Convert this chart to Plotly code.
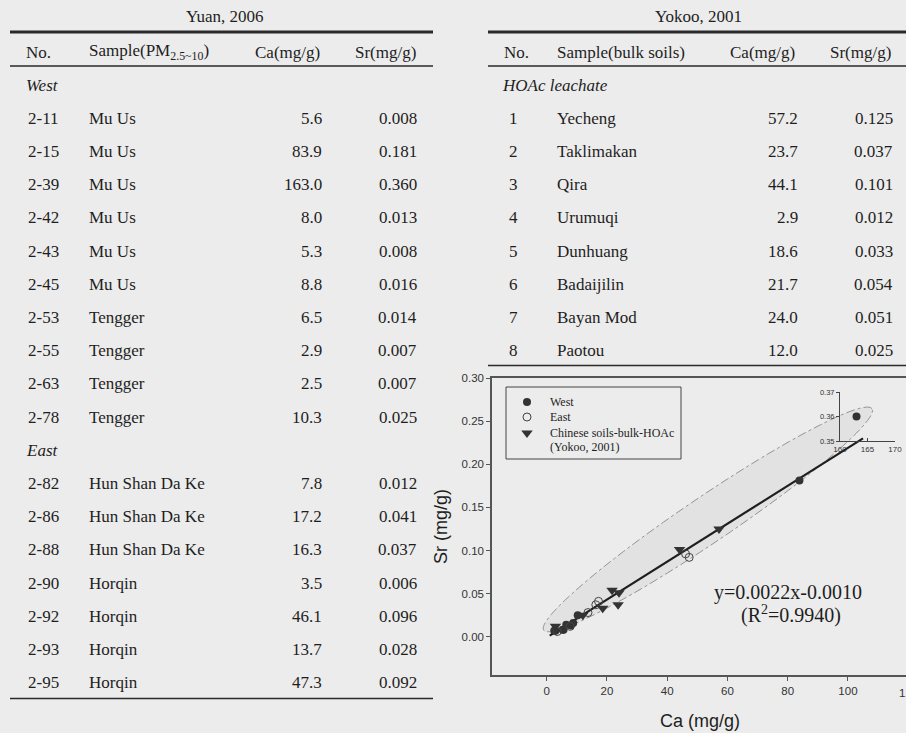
import math
import plotly.graph_objects as go

# ---------------- data ----------------
yuan_no = ["2-11", "2-15", "2-39", "2-42", "2-43", "2-45", "2-53", "2-55", "2-63", "2-78",
           "2-82", "2-86", "2-88", "2-90", "2-92", "2-93", "2-95"]
yuan_sample = ["Mu Us"] * 6 + ["Tengger"] * 4 + ["Hun Shan Da Ke"] * 3 + ["Horqin"] * 4
yuan_ca = [5.6, 83.9, 163.0, 8.0, 5.3, 8.8, 6.5, 2.9, 2.5, 10.3,
           7.8, 17.2, 16.3, 3.5, 46.1, 13.7, 47.3]
yuan_sr = [0.008, 0.181, 0.360, 0.013, 0.008, 0.016, 0.014, 0.007, 0.007, 0.025,
           0.012, 0.041, 0.037, 0.006, 0.096, 0.028, 0.092]
yuan_region = ["West"] * 10 + ["East"] * 7

yokoo_no = ["1", "2", "3", "4", "5", "6", "7", "8"]
yokoo_sample = ["Yecheng", "Taklimakan", "Qira", "Urumuqi", "Dunhuang", "Badaijilin",
                "Bayan Mod", "Paotou"]
yokoo_ca = [57.2, 23.7, 44.1, 2.9, 18.6, 21.7, 24.0, 12.0]
yokoo_sr = [0.125, 0.037, 0.101, 0.012, 0.033, 0.054, 0.051, 0.025]

fit_slope = 0.0022
fit_intercept = -0.0010
fit_r2 = 0.9940
fit_x = [1.0, 105.0]

x_ticks = [0, 20, 40, 60, 80, 100]
y_ticks = [0.00, 0.05, 0.10, 0.15, 0.20, 0.25, 0.30]
inset_x_ticks = [160, 165, 170]
inset_y_ticks = [0.35, 0.36, 0.37]

legend_labels = ["West", "East", "Chinese soils-bulk-HOAc", "(Yokoo, 2001)"]

# ---------------- layout helpers ----------------
W, H = 906, 733
BG = "#ececec"
INK = "#1e1e1e"
SERIF = "Liberation Serif, Times New Roman, serif"
SANS = "Liberation Sans, Arial, sans-serif"


def px(x):
    return x / W


def py(y):
    return 1 - y / H


annotations = []
shapes = []


def text(x, y, s, size=17, anchor="left", italic=False, family=SERIF, color=INK, angle=0):
    if italic:
        s = "<i>" + s + "</i>"
    annotations.append(dict(x=px(x), y=py(y), xref="paper", yref="paper", text=s,
                            showarrow=False, xanchor=anchor, yanchor="middle",
                            font=dict(family=family, size=size, color=color),
                            textangle=angle))


def hline(x0, x1, y, w=1.5, color="#2a2a2a"):
    shapes.append(dict(type="line", xref="paper", yref="paper", x0=px(x0), x1=px(x1),
                       y0=py(y), y1=py(y), line=dict(color=color, width=w)))


# ---------------- left table (Yuan, 2006) ----------------
ROW0, STEP = 85, 33.2
text(224, 16, "Yuan, 2006", anchor="center")
hline(10, 433, 32, w=3)
text(24, 52, "No.")
text(87, 52, "Sample(PM<sub>2.5~10</sub>)")
text(322, 52, "Ca(mg/g)", anchor="right")
text(418, 52, "Sr(mg/g)", anchor="right")
hline(10, 433, 66, w=1.5)

row = 0
prev = None
for i in range(len(yuan_no)):
    if yuan_region[i] != prev:
        text(24, ROW0 + STEP * row, yuan_region[i], italic=True)
        row += 1
        prev = yuan_region[i]
    y = ROW0 + STEP * row
    text(26, y, yuan_no[i])
    text(87, y, yuan_sample[i])
    text(324, y, f"{yuan_ca[i]:.1f}", anchor="right")
    text(419, y, f"{yuan_sr[i]:.3f}", anchor="right")
    row += 1
hline(10, 433, ROW0 + STEP * (row - 1) + 16, w=1.5)

# ---------------- right table (Yokoo, 2001) ----------------
text(698, 16, "Yokoo, 2001", anchor="center")
hline(488, 906, 32, w=3)
text(502, 52, "No.")
text(555, 52, "Sample(bulk soils)")
text(797, 52, "Ca(mg/g)", anchor="right")
text(893, 52, "Sr(mg/g)", anchor="right")
hline(488, 906, 66, w=1.5)
text(500, ROW0, "HOAc leachate", italic=True)
for i in range(len(yokoo_no)):
    y = ROW0 + STEP * (i + 1)
    text(513, y, yokoo_no[i], anchor="center")
    text(555, y, yokoo_sample[i])
    text(800, y, f"{yokoo_ca[i]:.1f}", anchor="right")
    text(895, y, f"{yokoo_sr[i]:.3f}", anchor="right")
hline(488, 906, ROW0 + STEP * len(yokoo_no) + 15, w=1.5)

# ---------------- scatter plot ----------------
X_L, X_R = 492, 906          # pixel extent of main plot
Y_B, Y_T = 675, 378
X0_PX, X_SCALE = 546.7, 3.0125      # pixel of Ca=0 and px per unit
Y0_PX, Y_SCALE = 636.7, 862.3       # pixel of Sr=0 and px per unit
x_range = [(X_L - X0_PX) / X_SCALE, (X_R - X0_PX) / X_SCALE]
y_range = [(Y0_PX - Y_B) / Y_SCALE, (Y0_PX - Y_T) / Y_SCALE]

fig = go.Figure()

# confidence ellipse (decorative), built in pixel-proportional space
ell_c = (53.5, 0.136)
ell_a, ell_b, ell_ang = 198.0, 23.0, math.radians(34.0)
pts = []
for k in range(97):
    t = 2 * math.pi * k / 96
    dx = ell_a * math.cos(t) * math.cos(ell_ang) - ell_b * math.sin(t) * math.sin(ell_ang)
    dy = ell_a * math.cos(t) * math.sin(ell_ang) + ell_b * math.sin(t) * math.cos(ell_ang)
    pts.append((ell_c[0] + dx / X_SCALE, ell_c[1] + dy / Y_SCALE))
path = "M " + " L ".join(f"{a:.3f},{b:.5f}" for a, b in pts) + " Z"
shapes.append(dict(type="path", xref="x", yref="y", path=path, layer="below",
                   fillcolor="rgba(150,150,150,0.11)",
                   line=dict(color="#939393", width=1, dash="dashdot")))

# regression line
fig.add_trace(go.Scatter(x=fit_x, y=[fit_slope * v + fit_intercept for v in fit_x],
                         mode="lines", line=dict(color="#1e1e1e", width=2.2),
                         showlegend=False, hoverinfo="skip"))

main_w = [(c, s) for c, s, r in zip(yuan_ca, yuan_sr, yuan_region) if r == "West" and c <= x_range[1]]
inset_w = [(c, s) for c, s, r in zip(yuan_ca, yuan_sr, yuan_region) if r == "West" and c > x_range[1]]
east = [(c, s) for c, s, r in zip(yuan_ca, yuan_sr, yuan_region) if r == "East"]

MK_WEST = dict(symbol="circle", size=8, color="#333333")
MK_EAST = dict(symbol="circle-open", size=8, color="#444444", line=dict(width=1))
MK_YOK = dict(symbol="triangle-down", size=10, color="#333333")

fig.add_trace(go.Scatter(x=[p[0] for p in main_w], y=[p[1] for p in main_w], mode="markers",
                         name="West", marker=MK_WEST, showlegend=False))
fig.add_trace(go.Scatter(x=[p[0] for p in east], y=[p[1] for p in east], mode="markers",
                         name="East", marker=MK_EAST, showlegend=False))
fig.add_trace(go.Scatter(x=yokoo_ca, y=yokoo_sr, mode="markers",
                         name="Chinese soils-bulk-HOAc (Yokoo, 2001)", marker=MK_YOK,
                         showlegend=False))
# inset point
fig.add_trace(go.Scatter(x=[p[0] for p in inset_w], y=[p[1] for p in inset_w], mode="markers",
                         xaxis="x2", yaxis="y2", showlegend=False, cliponaxis=False,
                         marker=MK_WEST))

# ---------------- legend (drawn on a pixel overlay axis) ----------------
LG_BOX = (506, 387, 681, 459)
shapes.append(dict(type="rect", xref="paper", yref="paper", x0=px(LG_BOX[0]), x1=px(LG_BOX[2]),
                   y0=py(LG_BOX[3]), y1=py(LG_BOX[1]), line=dict(color="#444444", width=1)))
lg_marker_x = 527
lg_rows = [402, 417, 433]
for yy, mk in zip(lg_rows, [MK_WEST, MK_EAST, MK_YOK]):
    fig.add_trace(go.Scatter(x=[lg_marker_x], y=[yy], mode="markers", marker=mk,
                             xaxis="x3", yaxis="y3", showlegend=False, hoverinfo="skip"))
for lab, yy in zip(legend_labels, [402, 417, 433, 447]):
    text(548, yy, lab, size=12)

# equation text
text(788, 592, f"y={fit_slope:.4f}x{fit_intercept:.4f}", size=20, anchor="center")
text(791, 614, f"(R<sup>2</sup>={fit_r2:.4f})", size=20, anchor="center")

# axis titles
text(700, 721, "Ca (mg/g)", size=18, anchor="center", family=SANS)
text(441, 527, "Sr (mg/g)", size=18, anchor="center", family=SANS, angle=-90)
# partially visible 120 tick label at the right edge
text(X0_PX + 120 * X_SCALE, 693, "120", size=11.5, anchor="center", family=SANS, color="#333")

axis_common = dict(showgrid=False, zeroline=False, showline=True, linecolor="#555555",
                   linewidth=1.5, ticks="outside", ticklen=4, tickcolor="#555555",
                   tickfont=dict(family=SANS, size=11.5, color="#333333"))

fig.update_layout(
    width=W, height=H, autosize=False,
    margin=dict(l=0, r=0, t=0, b=0, pad=0, autoexpand=False),
    paper_bgcolor=BG, plot_bgcolor="rgba(0,0,0,0)",
    showlegend=False,
    xaxis=dict(domain=[px(X_L), px(X_R)], range=x_range, tickvals=x_ticks,
               mirror=True, anchor="y", **axis_common),
    yaxis=dict(domain=[py(Y_B), py(Y_T)], range=y_range, tickvals=y_ticks,
               tickformat=".2f", anchor="x", **axis_common),
    xaxis2=dict(domain=[px(840), px(895)], range=[160, 170], tickvals=inset_x_ticks,
                anchor="y2", showgrid=False, zeroline=False, showline=True,
                linecolor="#444", linewidth=1, ticks="inside", ticklen=3, tickcolor="#444",
                tickfont=dict(family=SANS, size=8, color="#333")),
    yaxis2=dict(domain=[py(441), py(392)], range=[0.35, 0.37], tickvals=inset_y_ticks,
                tickformat=".2f", anchor="x2", showgrid=False, zeroline=False, showline=True,
                linecolor="#444", linewidth=1, ticks="outside", ticklen=3, tickcolor="#444",
                tickfont=dict(family=SANS, size=7.5, color="#333")),
    xaxis3=dict(domain=[0, 1], range=[0, W], visible=False, anchor="y3", fixedrange=True),
    yaxis3=dict(domain=[0, 1], range=[H, 0], visible=False, anchor="x3", fixedrange=True),
    annotations=annotations,
    shapes=shapes,
)

fig.write_html(
    "out.html",
    config={"displayModeBar": False},
    post_script="document.body.style.margin='0';document.body.style.background='#ececec';",
)
